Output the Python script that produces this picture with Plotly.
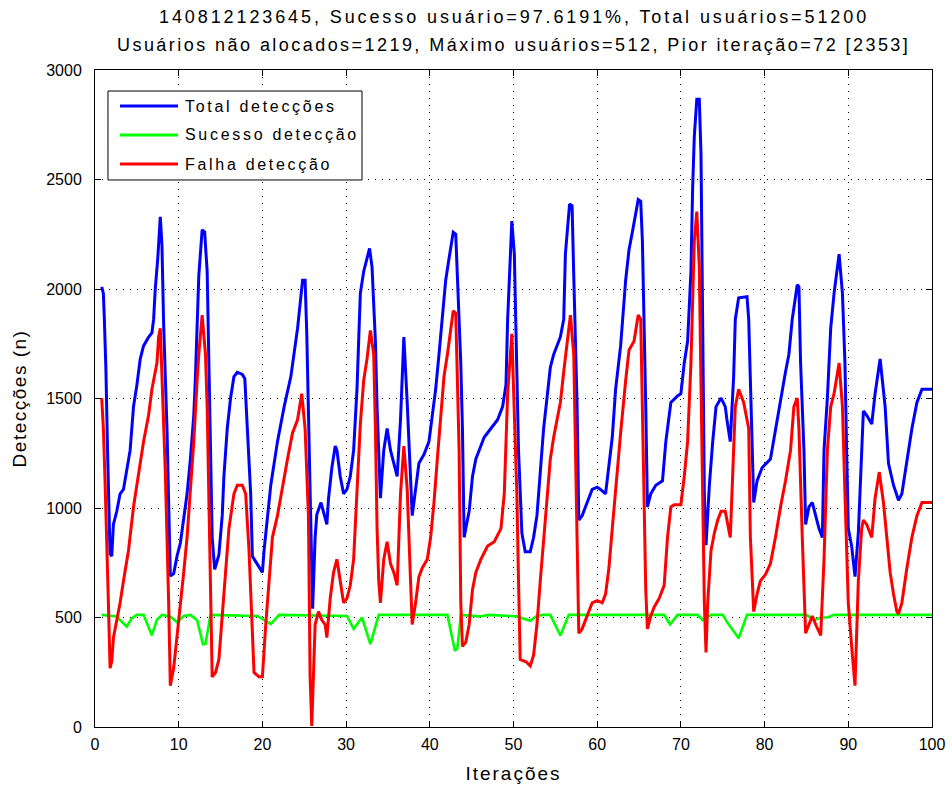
import plotly.graph_objects as go

# Iteration positions and detection counts for each series
total_x = [0.8, 1.0, 1.1, 1.3, 1.5, 1.8, 2.0, 2.2, 2.6, 3.0, 3.4, 3.8, 4.2, 4.6, 5.0, 5.4, 5.8, 6.4, 6.8, 7.0,
           7.2, 7.5, 7.8, 8.0, 8.2, 8.6, 9.0, 9.4, 9.8, 10.2, 10.6, 11.0, 11.4, 11.8, 12.0, 12.2, 12.4, 12.8, 13.1, 13.4,
           13.6, 13.8, 14.0, 14.3, 14.8, 15.2, 15.4, 15.8, 16.2, 16.6, 17.0, 17.6, 17.9, 18.2, 18.6, 18.8, 19.4, 20.0, 20.2, 20.6,
           21.0, 21.8, 22.6, 23.4, 24.2, 24.8, 25.1, 25.3, 25.5, 25.7, 25.9, 26.0, 26.3, 26.5, 27.0, 27.3, 27.7, 27.9, 28.3, 28.7,
           28.9, 29.3, 29.7, 30.1, 30.5, 30.9, 31.3, 31.5, 31.7, 32.1, 32.5, 32.8, 33.1, 33.3, 33.5, 33.7, 33.9, 34.1, 34.5, 34.9,
           35.3, 35.7, 36.1, 36.5, 36.9, 37.3, 37.7, 37.9, 38.3, 38.7, 39.3, 39.9, 40.3, 40.7, 41.1, 41.5, 41.9, 42.3, 42.8, 43.1,
           43.3, 43.7, 43.9, 44.1, 44.3, 44.7, 45.1, 45.5, 45.9, 46.5, 47.3, 48.1, 48.7, 49.1, 49.3, 49.5, 49.8, 50.1, 50.3, 50.6,
           51.0, 51.4, 52.0, 52.4, 52.8, 53.2, 53.6, 54.0, 54.4, 54.8, 55.6, 56.0, 56.2, 56.7, 57.0, 57.2, 57.6, 57.8, 58.2, 58.8,
           59.4, 60.0, 60.4, 61.0, 61.4, 61.8, 62.2, 62.8, 63.4, 63.8, 64.2, 64.9, 65.2, 65.4, 65.8, 66.0, 66.4, 67.0, 67.8, 68.2,
           68.8, 69.6, 70.0, 70.4, 70.8, 71.2, 71.4, 71.6, 71.9, 72.2, 72.4, 72.6, 72.8, 73.0, 73.4, 73.8, 74.2, 74.8, 75.3, 75.5,
           75.9, 76.3, 76.5, 76.9, 77.9, 78.1, 78.5, 78.7, 79.1, 79.7, 80.7, 81.3, 81.9, 82.5, 82.9, 83.3, 83.9, 84.1, 84.3, 84.7,
           84.9, 85.3, 85.7, 86.1, 86.5, 86.9, 87.1, 87.5, 87.9, 88.3, 88.9, 89.3, 89.6, 89.8, 90.0, 90.4, 90.8, 91.2, 91.6, 91.8,
           92.2, 92.8, 93.2, 93.8, 94.4, 94.8, 95.4, 96.0, 96.4, 97.0, 97.6, 98.2, 98.8, 100.0]
total_y = [2010, 1980, 1880, 1640, 1260, 790, 780, 925, 985, 1065, 1085, 1170, 1264, 1463, 1560, 1680, 1740, 1780, 1800, 1860,
           2000, 2140, 2330, 2200, 1840, 1363, 690, 700, 780, 840, 965, 1065, 1224, 1423, 1600, 1880, 2060, 2270, 2260, 2080,
           1680, 1264, 866, 720, 786, 965, 1144, 1363, 1502, 1600, 1620, 1610, 1590, 1363, 1065, 780, 746, 706, 806, 965,
           1104, 1303, 1463, 1600, 1820, 2040, 2040, 1800, 1400, 1085, 600, 540, 866, 970, 1025, 985, 925, 1043, 1184, 1283,
           1264, 1144, 1065, 1085, 1144, 1264, 1542, 1761, 1980, 2080, 2139, 2185, 2100, 1940, 1761, 1463, 1264, 1045, 1264, 1363,
           1264, 1204, 1144, 1403, 1781, 1482, 1085, 965, 1085, 1204, 1244, 1303, 1423, 1542, 1701, 1861, 2040, 2140, 2259, 2250,
           2060, 1662, 1363, 866, 906, 985, 1144, 1224, 1264, 1323, 1363, 1403, 1463, 1562, 1861, 2060, 2310, 2159, 1800, 1264,
           886, 800, 800, 866, 965, 1164, 1363, 1502, 1642, 1701, 1781, 1861, 2159, 2388, 2380, 2060, 1463, 945, 965, 1025,
           1085, 1095, 1085, 1065, 1184, 1323, 1542, 1741, 2040, 2179, 2259, 2408, 2400, 2219, 1463, 1005, 1065, 1104, 1124, 1303,
           1482, 1512, 1522, 1662, 1761, 2080, 2458, 2696, 2866, 2866, 2617, 1761, 1065, 830, 1104, 1303, 1463, 1502, 1463, 1403,
           1303, 1600, 1861, 1960, 1965, 1861, 1363, 1025, 1124, 1184, 1224, 1363, 1502, 1622, 1701, 1861, 2020, 2010, 1662, 1264,
           925, 1005, 1025, 965, 906, 866, 1264, 1502, 1821, 1980, 2159, 1980, 1662, 1264, 906, 826, 687, 886, 1264, 1443,
           1423, 1383, 1522, 1681, 1463, 1204, 1104, 1035, 1065, 1224, 1363, 1482, 1542, 1542]

success_x = [0.8, 2.6, 3.0, 3.8, 4.4, 5.0, 5.8, 6.8, 7.4, 8.0, 9.0, 9.8, 10.6, 11.4, 12.2, 12.9, 13.2, 13.8, 19.4, 21.0,
             22.0, 30.1, 30.9, 31.5, 31.9, 32.9, 33.9, 42.1, 42.6, 43.0, 43.3, 43.7, 46.0, 47.0, 50.4, 51.0, 52.0, 52.8, 53.6, 54.4,
             55.6, 56.6, 68.0, 68.7, 69.6, 72.0, 72.6, 73.6, 75.0, 75.5, 76.9, 77.9, 85.0, 85.9, 86.7, 87.5, 88.3, 100.0]
success_y = [512, 505, 488, 458, 497, 512, 512, 418, 490, 512, 505, 478, 507, 512, 488, 378, 380, 512, 507, 470,
             512, 507, 448, 480, 500, 378, 512, 512, 420, 348, 360, 512, 505, 512, 505, 497, 485, 508, 512, 512,
             418, 512, 512, 468, 512, 512, 488, 512, 512, 480, 405, 512, 512, 488, 500, 500, 512, 512]

fail_x = [0.8, 1.0, 1.2, 1.4, 1.6, 1.8, 2.0, 2.2, 2.6, 3.0, 3.4, 4.0, 4.6, 5.2, 5.8, 6.4, 6.8, 7.2, 7.4, 7.6,
          7.8, 8.0, 8.4, 8.8, 9.0, 9.4, 9.8, 10.2, 10.6, 11.0, 11.4, 11.8, 12.2, 12.4, 12.8, 13.2, 13.4, 13.6, 13.8, 14.0,
          14.4, 14.8, 15.2, 15.6, 16.0, 16.6, 17.0, 17.6, 18.0, 18.4, 18.8, 19.0, 19.6, 20.0, 20.4, 20.8, 21.2, 21.8, 22.4, 23.0,
          23.6, 24.2, 24.7, 25.1, 25.5, 25.7, 25.9, 26.1, 26.3, 26.7, 27.1, 27.5, 27.7, 28.1, 28.5, 28.9, 29.3, 29.7, 30.1, 30.5,
          30.9, 31.3, 31.7, 32.1, 32.5, 32.9, 33.3, 33.5, 33.7, 33.9, 34.1, 34.5, 34.9, 35.3, 35.7, 36.1, 36.5, 36.9, 37.3, 37.7,
          37.9, 38.3, 38.7, 39.1, 39.7, 40.1, 40.5, 40.9, 41.3, 41.7, 42.1, 42.8, 43.1, 43.3, 43.5, 43.7, 43.9, 44.3, 44.7, 45.1,
          45.5, 46.1, 46.9, 47.7, 48.5, 48.9, 49.3, 49.8, 50.1, 50.4, 50.6, 50.8, 51.5, 52.0, 52.4, 52.8, 53.2, 53.6, 54.0, 54.4,
          54.8, 55.2, 55.6, 56.0, 56.4, 56.8, 57.2, 57.4, 57.6, 57.8, 58.2, 58.8, 59.4, 60.0, 60.6, 61.0, 61.4, 61.8, 62.2, 62.8,
          63.4, 63.8, 64.4, 64.9, 65.2, 65.4, 65.6, 65.8, 66.0, 66.4, 66.8, 67.4, 68.0, 68.4, 68.8, 69.2, 70.0, 70.4, 70.8, 71.2,
          71.4, 71.6, 71.9, 72.2, 72.4, 72.6, 72.8, 73.0, 73.2, 73.6, 74.0, 74.4, 74.8, 75.3, 75.5, 75.9, 76.3, 76.5, 76.9, 77.5,
          78.1, 78.3, 78.7, 79.1, 79.5, 80.1, 80.7, 81.3, 81.9, 82.5, 83.1, 83.5, 83.9, 84.1, 84.5, 84.9, 85.3, 85.7, 86.1, 86.7,
          87.1, 87.5, 87.9, 88.3, 88.9, 89.3, 89.6, 90.0, 90.4, 90.8, 91.2, 91.6, 91.8, 92.2, 92.8, 93.2, 93.7, 94.2, 94.6, 95.0,
          95.4, 95.8, 96.0, 96.4, 97.0, 97.6, 98.2, 98.8, 100.0]
fail_y = [1502, 1363, 1124, 766, 567, 269, 300, 408, 488, 567, 667, 806, 1005, 1164, 1303, 1423, 1542, 1622, 1662, 1781,
          1821, 1602, 1164, 567, 189, 269, 408, 567, 706, 866, 1065, 1303, 1582, 1701, 1881, 1701, 1463, 1065, 567, 229,
          249, 308, 507, 726, 906, 1065, 1104, 1104, 1065, 806, 468, 249, 229, 229, 468, 667, 866, 965, 1104, 1224,
          1343, 1403, 1522, 1363, 965, 229, 5, 209, 468, 527, 488, 468, 408, 587, 706, 766, 667, 567, 587, 647,
          766, 1065, 1383, 1582, 1681, 1811, 1701, 1363, 906, 667, 567, 766, 846, 746, 706, 647, 1065, 1283, 1085, 667,
          468, 567, 686, 726, 766, 866, 1025, 1224, 1423, 1602, 1701, 1900, 1890, 1622, 1264, 567, 368, 388, 468, 627,
          706, 766, 826, 846, 906, 1065, 1522, 1795, 1463, 1065, 667, 308, 298, 279, 328, 468, 667, 866, 1065, 1224,
          1323, 1403, 1482, 1622, 1741, 1881, 1701, 1264, 766, 428, 448, 507, 567, 577, 567, 607, 726, 906, 1085, 1343,
          1582, 1721, 1761, 1881, 1861, 1463, 1065, 627, 448, 507, 547, 587, 647, 866, 1005, 1015, 1015, 1144, 1303, 1662,
          1940, 2219, 2353, 2100, 1562, 1065, 567, 340, 567, 806, 886, 945, 985, 985, 945, 866, 1264, 1463, 1542, 1482,
          1363, 866, 527, 607, 667, 696, 746, 866, 1005, 1124, 1264, 1463, 1502, 1363, 866, 428, 468, 507, 468, 418,
          766, 1264, 1463, 1522, 1662, 1463, 1065, 567, 368, 189, 667, 906, 945, 925, 866, 1045, 1164, 1025, 866, 706,
          607, 527, 517, 567, 726, 866, 965, 1025, 1025]

series_names = ["Total detecções", "Sucesso detecção", "Falha detecção"]
series_colors = ["#0000FF", "#00FF00", "#FF0000"]

x_ticks = list(range(0, 101, 10))
y_ticks = list(range(0, 3001, 500))

title_lines = [
    "140812123645, Sucesso usuário=97.6191%, Total usuários=51200",
    "Usuários não alocados=1219, Máximo usuários=512, Pior iteração=72 [2353]",
]

FONT = "Liberation Sans, Arial, sans-serif"


def spaced(text, px):
    """Wrap text in a span with extra letter spacing."""
    return f'<span style="letter-spacing:{px}px">{text}</span>'


fig = go.Figure()
for name, color, xs, ys, w in zip(series_names, series_colors,
                                  [total_x, success_x, fail_x],
                                  [total_y, success_y, fail_y],
                                  [3, 2.6, 3]):
    fig.add_trace(go.Scatter(x=xs, y=ys, mode="lines", name=name,
                             line=dict(color=color, width=w), showlegend=False))

axis_common = dict(
    showline=True, linecolor="black", linewidth=1, mirror="ticks",
    ticks="inside", ticklen=6, tickcolor="black", automargin=False,
    showgrid=True, gridcolor="black", gridwidth=1, griddash="1px,6px",
    zeroline=False, tickfont=dict(family=FONT, size=16, color="black"),
)

fig.update_xaxes(range=[0, 100], tickvals=x_ticks, ticklabelstandoff=3,
                 title=dict(text=spaced("Iterações", 2), font=dict(family=FONT, size=19, color="black"),
                            standoff=14),
                 **axis_common)
fig.update_yaxes(range=[0, 3000], tickvals=y_ticks, ticklabelstandoff=9,
                 title=dict(text=spaced("Detecções (n)", 1.5), font=dict(family=FONT, size=19, color="black"),
                            standoff=14),
                 **axis_common)

# Legend box drawn in paper coordinates at the upper left of the axes
lx0, lx1, ly0, ly1 = 0.0155, 0.319, 0.8326, 0.968
fig.add_shape(type="rect", xref="paper", yref="paper", x0=lx0, x1=lx1, y0=ly0, y1=ly1,
              line=dict(color="black", width=1), fillcolor="white", layer="above")
entry_y = [0.9452, 0.9011, 0.8569]
for name, color, ey in zip(series_names, series_colors, entry_y):
    fig.add_shape(type="line", xref="paper", yref="paper", x0=0.0299, x1=0.0992, y0=ey, y1=ey,
                  line=dict(color=color, width=3), layer="above")
    fig.add_annotation(xref="paper", yref="paper", x=0.1047, y=ey, xanchor="left", yanchor="middle",
                       text=spaced(name, 2.7), showarrow=False,
                       font=dict(family=FONT, size=16, color="black"))

# Two-line heading above the axes
for line, py, sp in zip(title_lines, [1.0807, 1.0381], [2.9, 2.45]):
    fig.add_annotation(xref="paper", yref="paper", x=0.5, y=py, xanchor="center", yanchor="middle",
                       text=spaced(line, sp), showarrow=False,
                       font=dict(family=FONT, size=18, color="black"))

fig.update_layout(
    width=952, height=789,
    margin=dict(l=95, r=20, t=70, b=62),
    paper_bgcolor="white", plot_bgcolor="white",
    showlegend=False,
)

fig.write_html("out.html")
